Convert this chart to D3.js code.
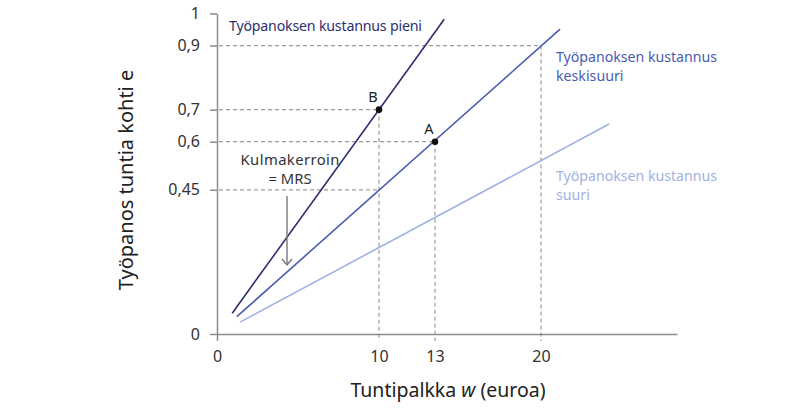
<!DOCTYPE html>
<html>
<head>
<meta charset="utf-8">
<script src="https://cdn.jsdelivr.net/npm/d3@7"></script>
<style>
  body { margin: 0; background: #fff; }
  svg { font-family: "Noto Sans", sans-serif; }
  .axis path, .axis line { stroke: #8c8c8c; stroke-width: 1.5; }
  .axis text { font-size: 16px; fill: #333; }
  .guide { stroke: #9a9a9a; stroke-width: 1.2; stroke-dasharray: 4,3; fill: none; }
</style>
</head>
<body>
<div id="chart"></div>
<script>
// x ticks are drawn where the original figure puts them (not evenly spaced)
let xTicks = [0, 10, 13, 20],
    yTicks = [0, 0.45, 0.6, 0.7, 0.9, 1];

// lines: [start w, start e], [end w, end e]
let lineNames = ["pieni", "keskisuuri", "suuri"];
let lineStart = [[0.94, 0.065], [1.22, 0.054], [1.42, 0.037]];
let lineEnd = [[13.61, 0.982], [21.26, 0.951], [24.51, 0.655]];
let lineColors = ["#2c2f6e", "#4a5bb1", "#9fb2e2"];

let pointNames = ["B", "A"],
    pointW = [10, 13],
    pointE = [0.7, 0.6];

// dashed guides: horizontal to (w, e) and vertical down from (w, e)
let guideW = [20, 10, 13, 10],
    guideE = [0.9, 0.7, 0.6, 0.45],
    guideVertical = [true, true, true, false];

let margin = { top: 13.5, left: 217 },
    W = 809, H = 412,
    plotH = 320.5;

let svg = d3.select("#chart").append("svg")
    .attr("width", W)
    .attr("height", H);

let g = svg.append("g")
    .attr("transform", "translate(" + margin.left + "," + margin.top + ")");

// polylinear x so that 13 sits where the figure has it
let x = d3.scaleLinear()
    .domain([0, 10, 13, 20, 29])
    .range([0, 162, 218, 324, 460]);

let y = d3.scaleLinear()
    .domain([0, 1])
    .range([plotH, 0]);

let fmt = function (d) { return String(d).replace(".", ","); };

// guides
guideW.forEach(function (w, i) {
    g.append("line").attr("class", "guide")
        .attr("x1", x(0) + 2).attr("x2", x(w))
        .attr("y1", y(guideE[i])).attr("y2", y(guideE[i]));
    if (guideVertical[i]) {
        g.append("line").attr("class", "guide")
            .attr("x1", x(w)).attr("x2", x(w))
            .attr("y1", y(guideE[i])).attr("y2", y(0) + 7);
    }
});

// axes
g.append("g")
    .attr("class", "axis")
    .attr("transform", "translate(0," + y(0) + ")")
    .call(d3.axisBottom(x).tickValues(xTicks).tickFormat(fmt).tickSize(7).tickSizeOuter(0).tickPadding(10))
    .call(function (a) { a.selectAll(".tick line").filter(function (d) { return d !== 0; }).remove(); });

g.append("g")
    .attr("class", "axis")
    .call(d3.axisLeft(y).tickValues(yTicks).tickFormat(fmt).tickSize(7).tickSizeOuter(0).tickPadding(10));

g.selectAll(".axis text").attr("font-family", "Noto Sans");

// lines
let line = d3.line()
    .x(function (d) { return x(d[0]); })
    .y(function (d) { return y(d[1]); });

lineNames.forEach(function (n, i) {
    g.append("path")
        .attr("d", line([lineStart[i], lineEnd[i]]))
        .attr("fill", "none")
        .attr("stroke", lineColors[i])
        .attr("stroke-width", 1.6);
});

// points
pointNames.forEach(function (n, i) {
    g.append("circle")
        .attr("cx", x(pointW[i]))
        .attr("cy", y(pointE[i]))
        .attr("r", 3.3)
        .attr("fill", "#111");
    g.append("text")
        .attr("x", x(pointW[i]) - 6)
        .attr("y", y(pointE[i]) - 8)
        .attr("text-anchor", "middle")
        .attr("font-size", 14.5)
        .attr("fill", "#222")
        .text(n);
});

// line labels
g.append("text")
    .attr("x", 229 - margin.left).attr("y", 30.5 - margin.top)
    .attr("font-size", 14.2).attr("fill", lineColors[0])
    .attr("textLength", 193).attr("lengthAdjust", "spacing")
    .text("Työpanoksen kustannus pieni");

let lab2 = g.append("text")
    .attr("font-size", 14.2).attr("fill", lineColors[1]);
lab2.append("tspan").attr("x", 556 - margin.left).attr("y", 62 - margin.top)
    .attr("textLength", 161).attr("lengthAdjust", "spacing").text("Työpanoksen kustannus");
lab2.append("tspan").attr("x", 556 - margin.left).attr("y", 80.5 - margin.top).text("keskisuuri");

let lab3 = g.append("text")
    .attr("font-size", 14.2).attr("fill", lineColors[2]);
lab3.append("tspan").attr("x", 556 - margin.left).attr("y", 181 - margin.top)
    .attr("textLength", 161).attr("lengthAdjust", "spacing").text("Työpanoksen kustannus");
lab3.append("tspan").attr("x", 556 - margin.left).attr("y", 199.5 - margin.top).text("suuri");

// slope annotation
let ann = g.append("text")
    .attr("font-size", 14.8).attr("fill", "#333").attr("text-anchor", "middle");
ann.append("tspan").attr("x", 290 - margin.left).attr("y", 164.5 - margin.top)
    .attr("textLength", 99).attr("lengthAdjust", "spacing").text("Kulmakerroin");
ann.append("tspan").attr("x", 290 - margin.left).attr("y", 183.5 - margin.top).text("= MRS");

g.append("line")
    .attr("x1", 287 - margin.left).attr("x2", 287 - margin.left)
    .attr("y1", 196 - margin.top).attr("y2", 265 - margin.top)
    .attr("stroke", "#777").attr("stroke-width", 1.4);
g.append("path")
    .attr("d", "M" + (282 - margin.left) + "," + (259 - margin.top) + "L" + (287 - margin.left) + "," + (265 - margin.top) + "L" + (292 - margin.left) + "," + (259 - margin.top))
    .attr("fill", "none").attr("stroke", "#777").attr("stroke-width", 1.4);

// axis titles
let xt = svg.append("text")
    .attr("x", 448).attr("y", 397)
    .attr("text-anchor", "middle")
    .attr("font-size", 19.5).attr("fill", "#222");
xt.append("tspan").text("Tuntipalkka ");
xt.append("tspan").attr("font-style", "italic").text("w");
xt.append("tspan").text(" (euroa)");

svg.append("text")
    .attr("transform", "translate(133,180) rotate(-90)")
    .attr("text-anchor", "middle")
    .attr("font-size", 20).attr("fill", "#222")
    .text("Työpanos tuntia kohti e");
</script>
</body>
</html>
